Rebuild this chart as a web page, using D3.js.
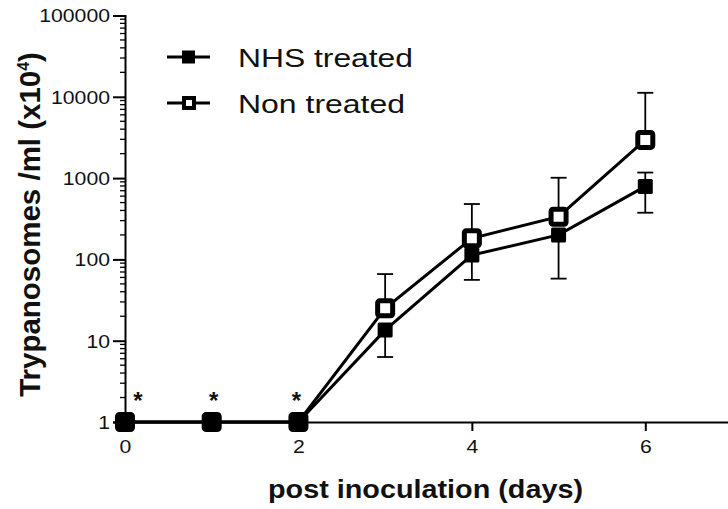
<!DOCTYPE html>
<html><head><meta charset="utf-8">
<script src="https://cdn.jsdelivr.net/npm/d3@7"></script>
<style>body{margin:0;background:#fff}svg{display:block}text{font-family:"Liberation Sans",Arial,sans-serif;fill:#111}</style>
</head><body>
<script>
const days = [0,1,2,3,4,5,6];
const nhsValues = [1,1,1,13.5,113,200,790];
const nhsLow = [null,null,null,6.3,56,58,375];
const nhsHigh = [null,null,null,null,null,null,1170];
const nonValues = [1,1,1,25,182,335,2950];
const nonLow = [null,null,null,null,null,null,null];
const nonHigh = [null,null,null,66,480,1010,11200];
const yTicks = [1,10,100,1000,10000,100000];
const xTicks = [0,2,4,6];
const starDays = [0,1,2];
const seriesNames = ["NHS treated","Non treated"];

const W=728,H=509;
const svg=d3.select("body").append("svg").attr("width",W).attr("height",H);
const x=d3.scaleLinear().domain([0,7]).range([125,732]);
const y=d3.scaleLog().domain([1,100000]).range([422,15.5]);
const digitW=11.8;

// y axis
const yAxis=d3.axisLeft(y).tickValues(yTicks).tickFormat(d3.format("d")).tickSize(12).tickPadding(3);
const gy=svg.append("g").attr("transform","translate(125,0)").call(yAxis);
gy.select(".domain").attr("stroke","#000").attr("stroke-width",2);
gy.selectAll(".tick line").attr("stroke","#000").attr("stroke-width",2);
gy.selectAll(".tick text").style("font-size","18px").attr("fill","#111").attr("dy","0.36em")
 .attr("textLength",d=>String(d).length*digitW).attr("lengthAdjust","spacingAndGlyphs");
// minor ticks
const minor=[];
for(let e=0;e<5;e++)for(let m=2;m<=9;m++)minor.push(m*Math.pow(10,e));
gy.selectAll(".minor").data(minor).enter().append("line")
 .attr("x1",-5).attr("x2",0).attr("y1",d=>y(d)).attr("y2",d=>y(d))
 .attr("stroke","#000").attr("stroke-width",1.3);

// x axis
const xAxis=d3.axisBottom(x).tickValues(xTicks).tickFormat(d3.format("d")).tickSize(9).tickPadding(9);
const gx=svg.append("g").attr("transform","translate(0,422)").call(xAxis);
gx.select(".domain").attr("stroke","#000").attr("stroke-width",2);
gx.selectAll(".tick line").attr("stroke","#000").attr("stroke-width",2);
gx.selectAll(".tick text").style("font-size","18px").attr("fill","#111")
 .attr("textLength",d=>String(d).length*digitW).attr("lengthAdjust","spacingAndGlyphs");

// axis titles
svg.append("text").attr("x",425.5).attr("y",498).attr("text-anchor","middle")
 .style("font-size","26px").style("font-weight","bold")
 .attr("textLength",315).attr("lengthAdjust","spacingAndGlyphs").text("post inoculation (days)");
const yt=svg.append("text").attr("transform","translate(40,224.5) rotate(-90)").attr("text-anchor","middle")
 .style("font-size","29px").style("font-weight","bold");
yt.append("tspan").text("Trypanosomes /ml (x10")
 .attr("textLength",326).attr("lengthAdjust","spacingAndGlyphs");
yt.append("tspan").attr("dy",-11).style("font-size","16px").text("4");
yt.append("tspan").attr("dy",11).text(")");

const line=d3.line().x(d=>x(d.day)).y(d=>y(d.v));
const nhs=days.map((d,i)=>({day:d,v:nhsValues[i],lo:nhsLow[i],hi:nhsHigh[i]}));
const non=days.map((d,i)=>({day:d,v:nonValues[i],lo:nonLow[i],hi:nonHigh[i]}));

function errBars(data){
 const g=svg.append("g").attr("stroke","#000").attr("stroke-width",1.8);
 data.forEach(d=>{
  [d.lo,d.hi].forEach(e=>{
   if(e==null)return;
   g.append("line").attr("x1",x(d.day)).attr("x2",x(d.day)).attr("y1",y(d.v)).attr("y2",y(e));
   g.append("line").attr("x1",x(d.day)-8).attr("x2",x(d.day)+8).attr("y1",y(e)).attr("y2",y(e));
  });
 });
}
errBars(non);errBars(nhs);

svg.append("path").datum(non).attr("d",line).attr("fill","none").attr("stroke","#000").attr("stroke-width",3);
svg.append("path").datum(nhs).attr("d",line).attr("fill","none").attr("stroke","#000").attr("stroke-width",3);

svg.append("g").selectAll("rect").data(non).enter().append("rect")
 .attr("x",d=>x(d.day)-7.5).attr("y",d=>y(d.v)-7.5).attr("width",15).attr("height",15).attr("rx",2)
 .attr("fill","#fff").attr("stroke","#000").attr("stroke-width",5);
svg.append("g").selectAll("rect").data(nhs).enter().append("rect")
 .attr("x",d=>x(d.day)-7.5).attr("y",d=>y(d.v)-7.5).attr("width",15).attr("height",15).attr("rx",1.5)
 .attr("fill","#000");

// asterisks
svg.append("g").selectAll("text").data(starDays).enter().append("text")
 .attr("x",d=>x(d)+(d===0?13:(d===1?2:-2))).attr("y",409).attr("text-anchor","middle")
 .style("font-size","24px").style("font-weight","bold").text("*");

// legend
const lg=svg.append("g");
const legendW=[175,167];
seriesNames.forEach((n,i)=>{
 const cy=57+i*46;
 lg.append("line").attr("x1",167).attr("x2",210).attr("y1",cy).attr("y2",cy).attr("stroke","#000").attr("stroke-width",3);
 if(i===0) lg.append("rect").attr("x",182).attr("y",cy-6.5).attr("width",13).attr("height",13).attr("fill","#000");
 else lg.append("rect").attr("x",184).attr("y",cy-5).attr("width",10).attr("height",10).attr("fill","#fff").attr("stroke","#000").attr("stroke-width",4);
 lg.append("text").attr("x",238).attr("y",cy+9.5).style("font-size","25px")
  .attr("textLength",legendW[i]).attr("lengthAdjust","spacingAndGlyphs").text(n);
});
</script>
</body></html>
